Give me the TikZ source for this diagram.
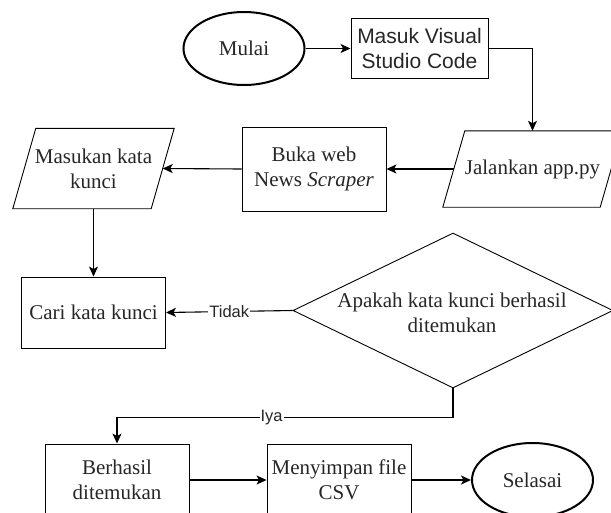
\documentclass[tikz,border=0pt]{standalone}
\usepackage{fontspec}
\setmainfont{Liberation Serif}
\setsansfont{Liberation Sans}
\usetikzlibrary{shapes.geometric,arrows.meta,calc}
\begin{document}
\begin{tikzpicture}[x=1pt,y=-1pt,
  txt/.style={font=\fontsize{21}{25}\selectfont, align=center, inner sep=0pt, text=black!85},
  box/.style={txt, draw, line width=0.9pt, rectangle},
  term/.style={txt, draw, ellipse, line width=2pt, minimum width=121pt, minimum height=73pt},
  conn/.style={line width=1.1pt, -{Stealth[length=10pt,width=9pt,inset=2.5pt]}},
  lab/.style={font=\sffamily\fontsize{16.5}{19}\selectfont, fill=white, inner sep=1pt, text=black!85},
  paraline/.style={line width=0.9pt},
]
\useasboundingbox (0,0) rectangle (611,512);
\clip (0,0) rectangle (611,512);

\node[term] (mulai) at (244,48.5) {Mulai};
\node[box, font=\sffamily\fontsize{21}{25}\selectfont, minimum width=137pt, minimum height=60pt] (masuk) at (419.5,48.5) {Masuk Visual\\Studio Code};

\node[txt, minimum width=157pt, minimum height=76pt] (jal) at (532.5,169) {Jalankan app.py};
\draw[paraline] ($(jal.north west)+(11,0)$) -- ($(jal.north east)+(11,0)$) -- ($(jal.south east)+(-11,0)$) -- ($(jal.south west)+(-11,0)$) -- cycle;

\node[box, minimum width=144pt, minimum height=84pt] (buka) at (314,169) {Buka web\\News \textit{Scraper}};

\node[txt, minimum width=138pt, minimum height=80pt] (mk) at (93.5,168.5) {Masukan kata\\kunci};
\draw[paraline] ($(mk.north west)+(11.5,0)$) -- ($(mk.north east)+(11.5,0)$) -- ($(mk.south east)+(-11.5,0)$) -- ($(mk.south west)+(-11.5,0)$) -- cycle;

\node[box, minimum width=144pt, minimum height=71pt] (cari) at (93.5,312.5) {Cari kata kunci};

\node[diamond, draw, line width=0.9pt, minimum width=320pt, minimum height=155pt, inner sep=0pt] (cek) at (453,310.5) {};
\node[txt] (cektext) at (452,313) {Apakah kata kunci berhasil\\ditemukan};

\node[box, minimum width=144pt, minimum height=72pt] (ber) at (117,480) {Berhasil\\ditemukan};
\node[box, minimum width=144pt, minimum height=72pt] (meny) at (339,480) {Menyimpan file\\CSV};
\node[term, minimum height=74pt] (sel) at (532.5,480) {Selasai};

\draw[conn] (mulai) -- (masuk);
\draw[conn] (masuk.east) -| (jal.north);
\draw[conn] (jal.west) -- (buka.east);
\draw[conn] (buka.west) -- (mk.east);
\draw[conn] (mk.south) -- (cari.north);
\draw[conn] (cek.west) -- node[lab]{Tidak} (cari.east);
\draw[conn] (cek.south) -- ++(0,29) -| node[lab, pos=0.27]{Iya} (ber.north);
\draw[conn] (ber) -- (meny);
\draw[conn] (meny) -- (sel);
\end{tikzpicture}
\end{document}
